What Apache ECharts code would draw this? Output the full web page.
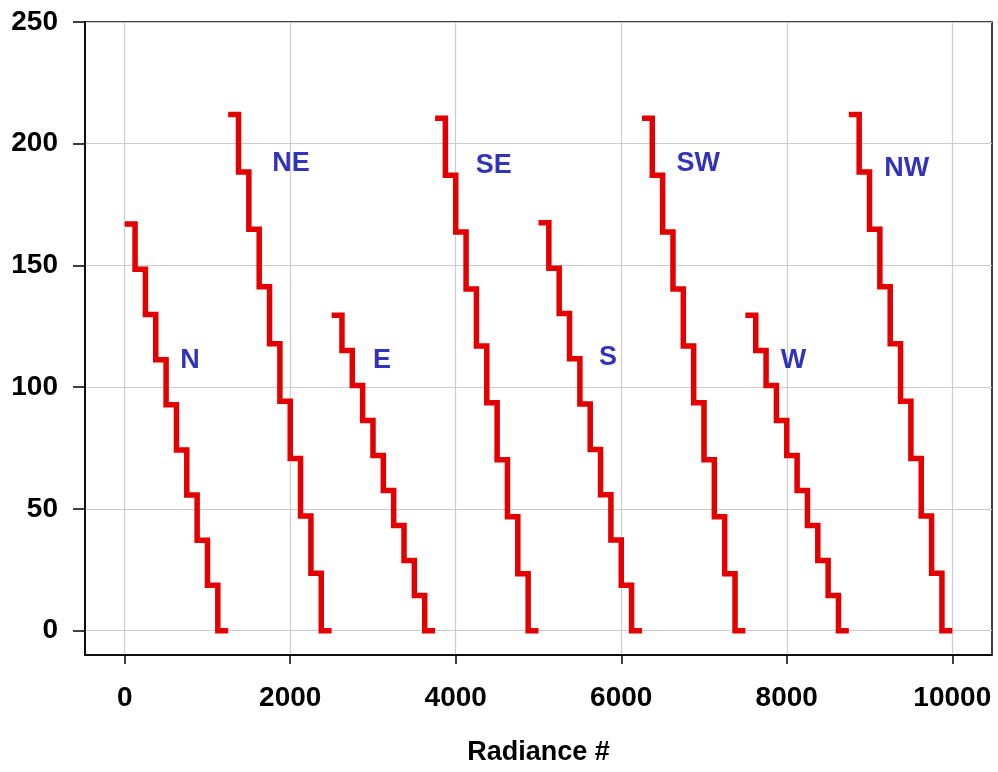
<!DOCTYPE html>
<html><head><meta charset="utf-8">
<script src="https://cdn.jsdelivr.net/npm/echarts@6/dist/echarts.min.js"></script>
<style>html,body{margin:0;padding:0;background:#fff}#c{width:998px;height:772px}</style>
</head><body><div id="c"></div>
<script>
// Sector names
const sectors = ['N','NE','E','SE','S','SW','W','NW'];
// Radiance # breakpoints for each staircase (start, 9 steps, end)
const xN  = [0,125,250,375,500,625,750,875,1000,1125,1250];
const xNE = [1250,1375,1500,1625,1750,1875,2000,2125,2250,2375,2500];
const xE  = [2500,2625,2750,2875,3000,3125,3250,3375,3500,3625,3750];
const xSE = [3750,3875,4000,4125,4250,4375,4500,4625,4750,4875,5000];
const xS  = [5000,5125,5250,5375,5500,5625,5750,5875,6000,6125,6250];
const xSW = [6250,6375,6500,6625,6750,6875,7000,7125,7250,7375,7500];
const xW  = [7500,7625,7750,7875,8000,8125,8250,8375,8500,8625,8750];
const xNW = [8750,8875,9000,9125,9250,9375,9500,9625,9750,9875,10000];
// Step levels (y values) for each sector
const yN  = [167,148.4,129.9,111.3,92.8,74.2,55.7,37.1,18.6,0];
const yNE = [212,188.4,164.9,141.3,117.8,94.2,70.7,47.1,23.6,0];
const yE  = [129.5,115.1,100.7,86.3,71.9,57.6,43.2,28.8,14.4,0];
const ySE = [210.5,187.1,163.7,140.3,116.9,93.6,70.2,46.8,23.4,0];
const yS  = [167.5,148.9,130.3,111.7,93.1,74.4,55.8,37.2,18.6,0];
const ySW = [210.5,187.1,163.7,140.3,116.9,93.6,70.2,46.8,23.4,0];
const yW  = [129.5,115.1,100.7,86.3,71.9,57.6,43.2,28.8,14.4,0];
const yNW = [212,188.4,164.9,141.3,117.8,94.2,70.7,47.1,23.6,0];
// Label positions (data coords)
const labelX = [790,2010,3110,4460,5840,6930,8080,9450];
const labelY = [111,192,111,191,112,192,111,190];
// Tick values
const xTicks = [0,2000,4000,6000,8000,10000];
const yTicks = [0,50,100,150,200,250];

const xs = [xN,xNE,xE,xSE,xS,xSW,xW,xNW];
const ys = [yN,yNE,yE,ySE,yS,ySW,yW,yNW];

const FONT = "'Liberation Sans', Arial, sans-serif";
const series = sectors.map((name, i) => {
  const data = xs[i].map((x, k) => [x, ys[i][Math.min(k, ys[i].length - 1)]]);
  return {
    name: name, type: 'line', step: 'end', data: data,
    symbol: 'none', clip: false, silent: true,
    lineStyle: { color: '#e30000', width: 5.5, join: 'miter', cap: 'butt' },
    z: 3
  };
});
series.push({
  type: 'scatter', symbolSize: 0, silent: true, z: 4,
  data: sectors.map((n, i) => ({ value: [labelX[i], labelY[i]], name: n })),
  label: { show: true, position: 'inside', formatter: '{b}', color: '#0000a8',
           fontWeight: 'bold', fontSize: 27, fontFamily: FONT }
});

const fmt = v => String(v);
const chart = echarts.init(document.getElementById('c'), null, { renderer: 'canvas' });
chart.setOption({
  animation: false,
  backgroundColor: '#fff',
  grid: { left: 85, right: 6, top: 22, bottom: 117, show: true, borderColor: '#000', borderWidth: 1.5, backgroundColor: 'transparent' },
  xAxis: {
    type: 'value', min: -480, max: 10480,
    name: 'Radiance #', nameLocation: 'middle', nameGap: 84,
    nameTextStyle: { fontSize: 27, fontWeight: 'bold', fontFamily: FONT, color: '#000' },
    axisLine: { show: true, onZero: false, lineStyle: { color: '#000', width: 1.5 } },
    axisTick: { show: true, length: 9, customValues: xTicks, lineStyle: { color: '#000', width: 1.5 } },
    axisLabel: { customValues: xTicks, formatter: fmt, margin: 29, fontSize: 28, fontWeight: 'bold', fontFamily: FONT, color: '#000' },
    splitLine: { show: true, lineStyle: { color: '#cccccc', width: 1.2 } }
  },
  yAxis: {
    type: 'value', min: -10, max: 250,
    axisLine: { show: true, onZero: false, lineStyle: { color: '#000', width: 1.5 } },
    axisTick: { show: true, length: 12, customValues: yTicks, lineStyle: { color: '#000', width: 1.5 } },
    axisLabel: { customValues: yTicks, formatter: fmt, margin: 27, fontSize: 28, fontWeight: 'bold', fontFamily: FONT, color: '#000' },
    splitLine: { show: true, lineStyle: { color: '#cccccc', width: 1.2 } }
  },
  series: series
});
</script>
</body></html>
